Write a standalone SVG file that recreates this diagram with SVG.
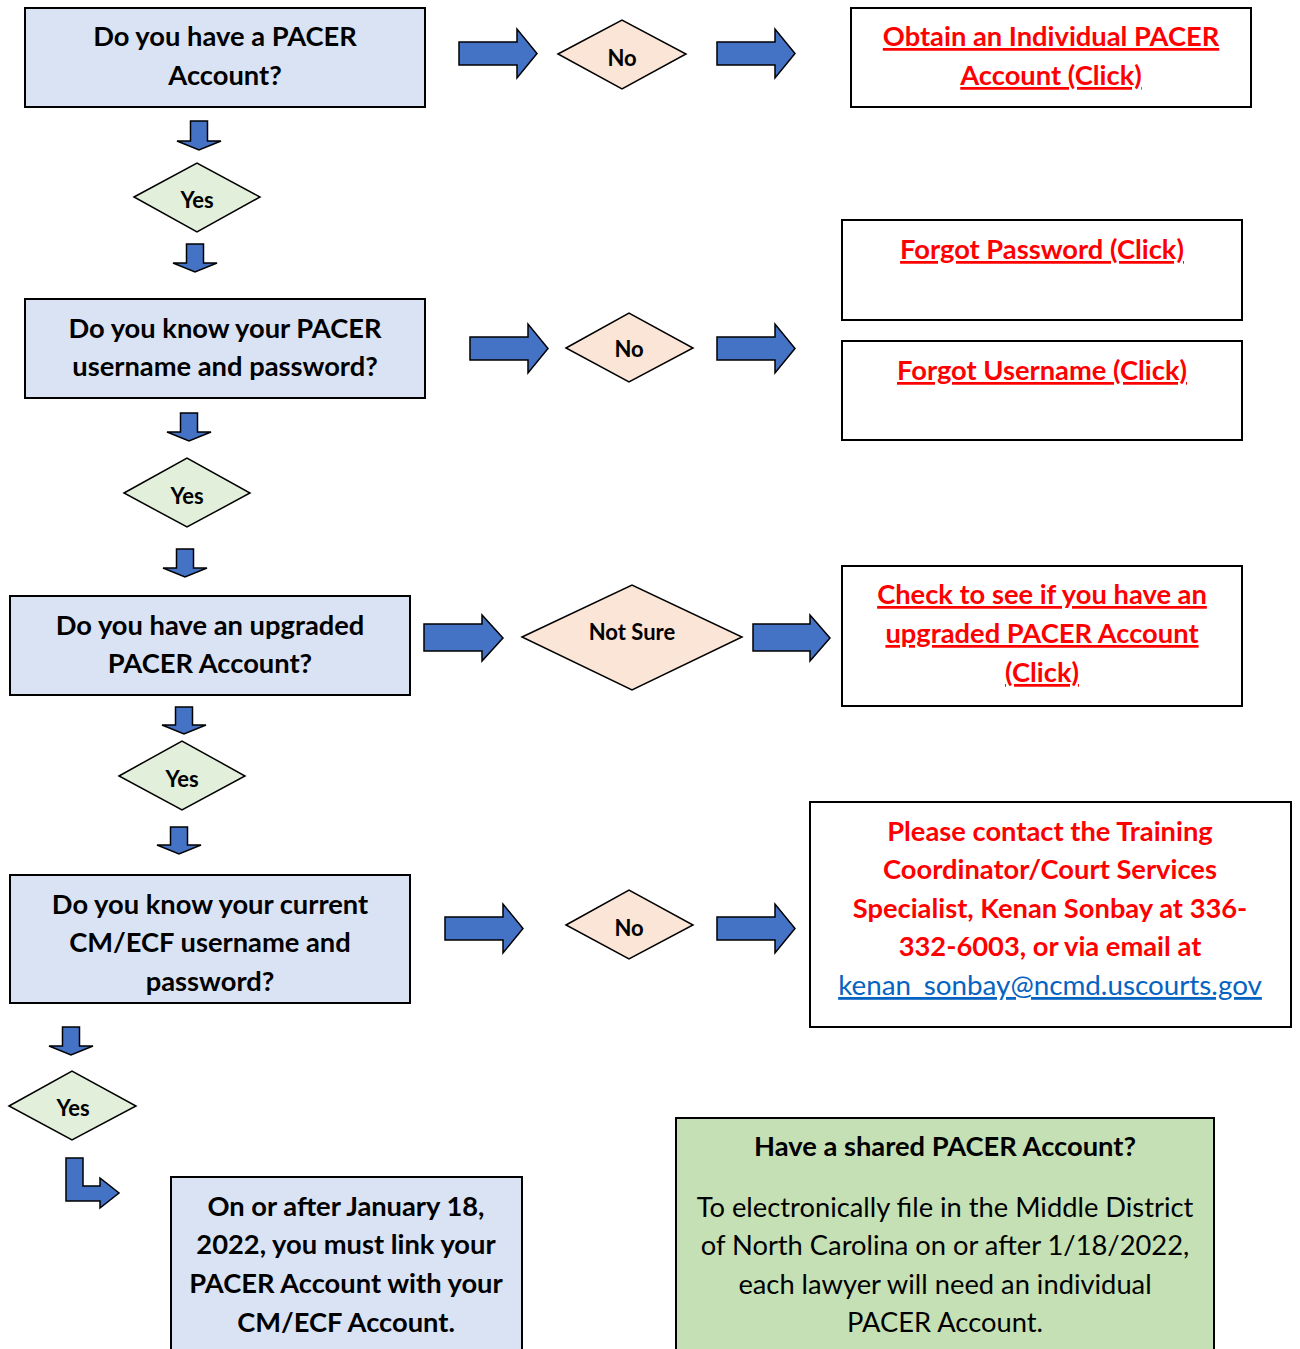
<svg xmlns="http://www.w3.org/2000/svg" width="1300" height="1349" viewBox="0 0 1300 1349">
<style>
  .q { fill: #DAE3F3; stroke: #000; stroke-width: 2; }
  .w { fill: #FFFFFF; stroke: #000; stroke-width: 2; }
  .g { fill: #C5E0B4; stroke: #000; stroke-width: 2; }
  .yes { fill: #E2EFDA; stroke: #000; stroke-width: 1.5; }
  .no { fill: #FBE5D6; stroke: #000; stroke-width: 1.5; }
  .arr { fill: #4472C4; stroke: #000; stroke-width: 1.5; stroke-linejoin: miter; }
  text { font-family: Lato, "Open Sans", "Liberation Sans", sans-serif; text-anchor: middle; }
  .t { font-size: 27.3px; font-weight: bold; fill: #000; }
  .r { font-size: 27.3px; font-weight: bold; fill: #FF0000; }
  .u { text-decoration: underline; }
  .s { font-size: 22px; font-weight: bold; fill: #000; }
  .n { font-size: 27.3px; font-weight: normal; fill: #000; }
  .e { font-size: 27.8px; font-weight: normal; fill: #0563C1; text-decoration: underline; }
</style>

<g id="connectors">
  <!-- down arrows -->
  <path class="arr" d="M190.5 121 H207.5 V141 H221 L199 150 L177 141 H190.5 Z"/>
  <path class="arr" d="M186.5 244 H203.5 V263 H217 L195 272 L173 263 H186.5 Z"/>
  <path class="arr" d="M180.5 413 H197.5 V432 H211 L189 441 L167 432 H180.5 Z"/>
  <path class="arr" d="M176.5 549 H193.5 V568 H207 L185 577 L163 568 H176.5 Z"/>
  <path class="arr" d="M175.5 707 H192.5 V725 H206 L184 734 L162 725 H175.5 Z"/>
  <path class="arr" d="M170.5 827 H187.5 V845 H201 L179 854 L157 845 H170.5 Z"/>
  <path class="arr" d="M62.5 1027 H79.5 V1046 H93 L71 1055 L49 1046 H62.5 Z"/>
  <!-- bent arrow -->
  <path class="arr" d="M66 1158 H83 V1186 H100 V1178 L119 1193 L100 1208 V1201 H66 Z"/>
  <!-- right arrows -->
  <path class="arr" d="M459 42 H517 V29 L537 53.5 L517 78 V65 H459 Z"/>
  <path class="arr" d="M717 42 H775 V29 L795 53.5 L775 78 V65 H717 Z"/>
  <path class="arr" d="M470 337 H528 V324 L548 348.5 L528 373 V360 H470 Z"/>
  <path class="arr" d="M717 337 H775 V324 L795 348.5 L775 373 V360 H717 Z"/>
  <path class="arr" d="M424 624 H482 V615 L503 638 L482 661 V651 H424 Z"/>
  <path class="arr" d="M753 624 H810 V615 L830 638 L810 661 V651 H753 Z"/>
  <path class="arr" d="M445 917 H503 V904 L523 928.5 L503 953 V940 H445 Z"/>
  <path class="arr" d="M717 917 H775 V904 L795 928.5 L775 953 V940 H717 Z"/>
</g>

<g id="q1">
  <rect class="q" x="25" y="8" width="400" height="99"/>
  <text class="t" x="225" y="46">Do you have a PACER</text>
  <text class="t" x="225" y="85">Account?</text>
</g>
<g id="no1">
  <polygon class="no" points="558,54 622,20 686,54 622,89"/>
  <text class="s" x="622" y="66">No</text>
</g>
<g id="obtain">
  <rect class="w" x="851" y="8" width="400" height="99"/>
  <text class="r u" x="1051" y="46">Obtain an Individual PACER</text>
  <text class="r u" x="1051" y="85">Account (Click)</text>
</g>
<g id="yes1">
  <polygon class="yes" points="134,197 197,163 260,197 197,232"/>
  <text class="s" x="197" y="208">Yes</text>
</g>

<g id="q2">
  <rect class="q" x="25" y="299" width="400" height="99"/>
  <text class="t" x="225" y="338">Do you know your PACER</text>
  <text class="t" x="225" y="376">username and password?</text>
</g>
<g id="no2">
  <polygon class="no" points="566,348 629,313 693,348 629,382"/>
  <text class="s" x="629" y="357">No</text>
</g>
<g id="forgot-password">
  <rect class="w" x="842" y="220" width="400" height="100"/>
  <text class="r u" x="1042" y="259">Forgot Password (Click)</text>
</g>
<g id="forgot-username">
  <rect class="w" x="842" y="341" width="400" height="99"/>
  <text class="r u" x="1042" y="380">Forgot Username (Click)</text>
</g>
<g id="yes2">
  <polygon class="yes" points="124,493 187,458 250,493 187,527"/>
  <text class="s" x="187" y="504">Yes</text>
</g>

<g id="q3">
  <rect class="q" x="10" y="596" width="400" height="99"/>
  <text class="t" x="210" y="635">Do you have an upgraded</text>
  <text class="t" x="210" y="673">PACER Account?</text>
</g>
<g id="notsure">
  <polygon class="no" points="522,637 632,585 742,637 632,690"/>
  <text class="s" x="632" y="640">Not Sure</text>
</g>
<g id="check">
  <rect class="w" x="842" y="566" width="400" height="140"/>
  <text class="r u" x="1042" y="604">Check to see if you have an</text>
  <text class="r u" x="1042" y="643">upgraded PACER Account</text>
  <text class="r u" x="1042" y="682">(Click)</text>
</g>
<g id="yes3">
  <polygon class="yes" points="119,776 182,741 245,776 182,810"/>
  <text class="s" x="182" y="787">Yes</text>
</g>

<g id="q4">
  <rect class="q" x="10" y="875" width="400" height="128"/>
  <text class="t" x="210" y="914">Do you know your current</text>
  <text class="t" x="210" y="952">CM/ECF username and</text>
  <text class="t" x="210" y="991">password?</text>
</g>
<g id="no3">
  <polygon class="no" points="566,925 629,890 693,925 629,959"/>
  <text class="s" x="629" y="936">No</text>
</g>
<g id="contact">
  <rect class="w" x="810" y="802" width="481" height="225"/>
  <text class="r" x="1050" y="841">Please contact the Training</text>
  <text class="r" x="1050" y="879">Coordinator/Court Services</text>
  <text class="r" x="1050" y="918">Specialist, Kenan Sonbay at 336-</text>
  <text class="r" x="1050" y="956">332-6003, or via email at</text>
  <text class="e" x="1050" y="995">kenan_sonbay@ncmd.uscourts.gov</text>
</g>
<g id="yes4">
  <polygon class="yes" points="9,1106 72,1071 136,1106 72,1140"/>
  <text class="s" x="73" y="1116">Yes</text>
</g>

<g id="link">
  <rect class="q" x="171" y="1177" width="351" height="180"/>
  <text class="t" x="346" y="1216">On or after January 18,</text>
  <text class="t" x="346" y="1254">2022, you must link your</text>
  <text class="t" x="346" y="1293">PACER Account with your</text>
  <text class="t" x="346" y="1332">CM/ECF Account.</text>
</g>

<g id="shared">
  <rect class="g" x="676" y="1118" width="538" height="240"/>
  <text class="t" x="945" y="1156">Have a shared PACER Account?</text>
  <text class="n" x="945" y="1217">To electronically file in the Middle District</text>
  <text class="n" x="945" y="1255">of North Carolina on or after 1/18/2022,</text>
  <text class="n" x="945" y="1294">each lawyer will need an individual</text>
  <text class="n" x="945" y="1332">PACER Account.</text>
</g>
</svg>
